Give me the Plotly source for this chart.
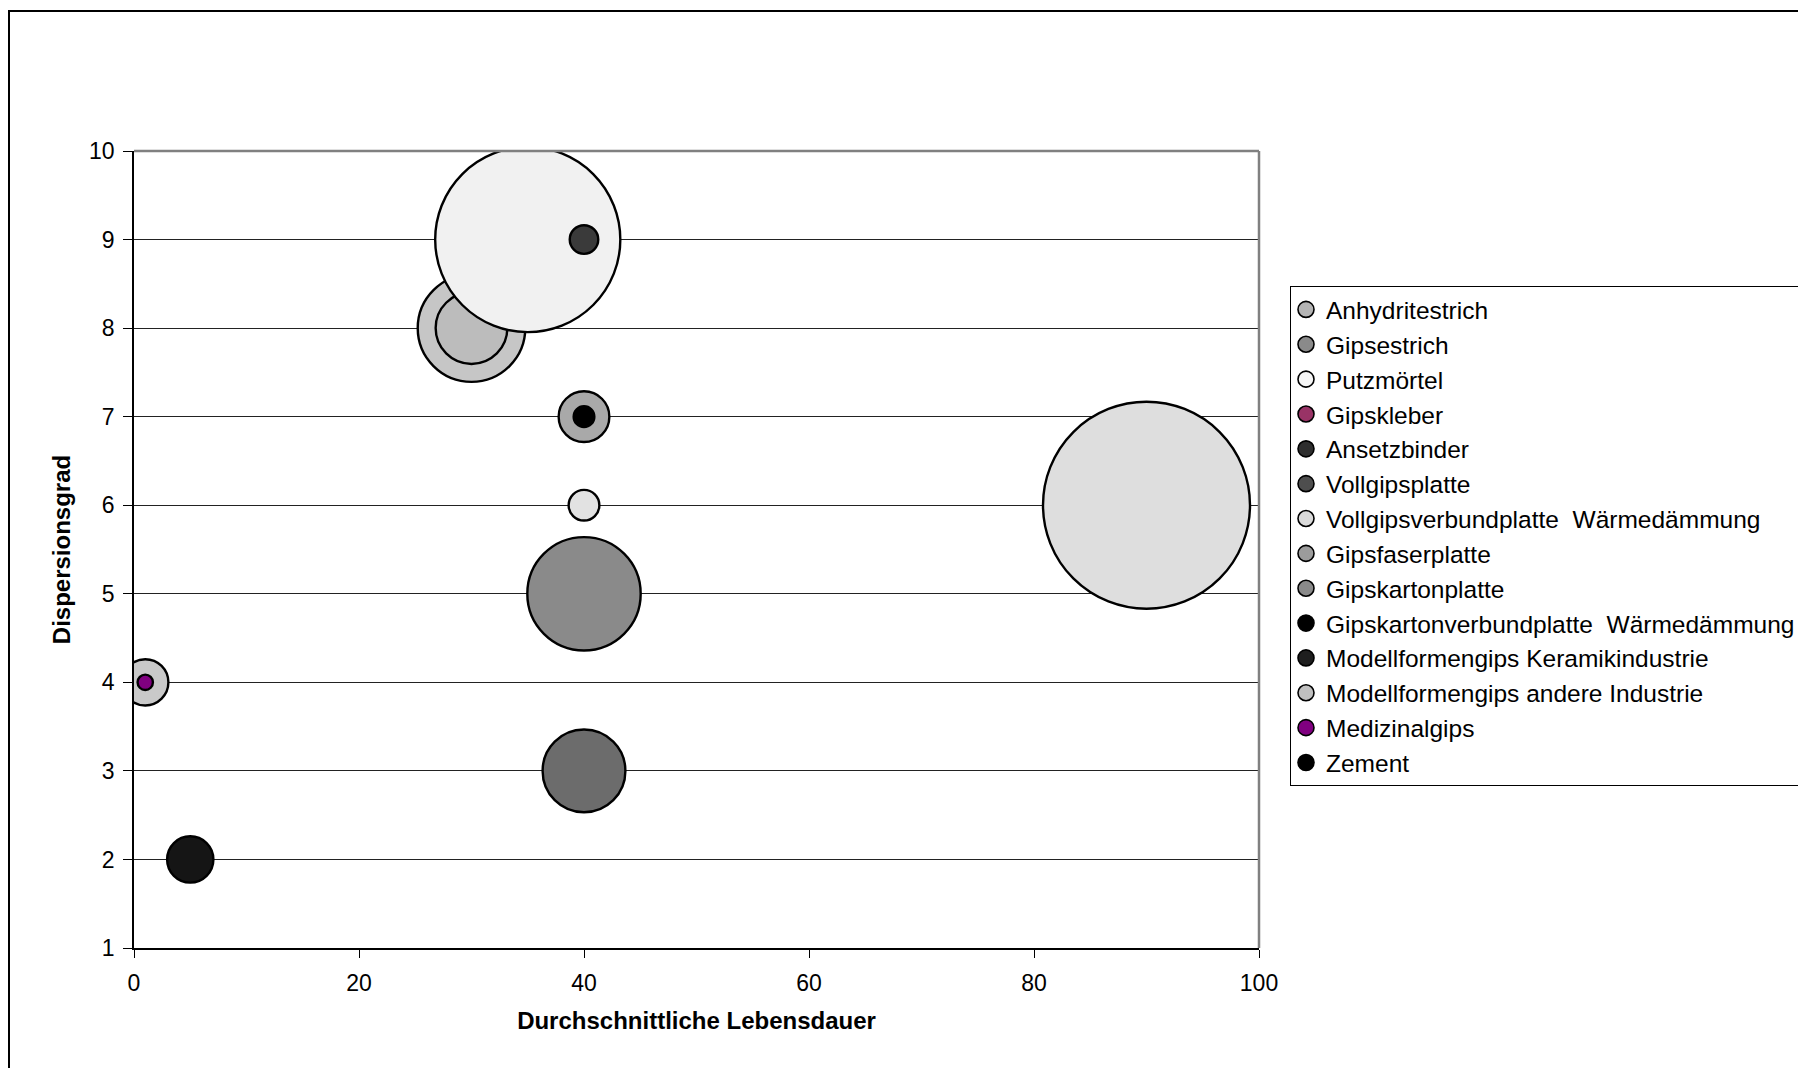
import plotly.graph_objects as go

# Products (legend order = drawing order)
products = [
    "Anhydritestrich",
    "Gipsestrich",
    "Putzmörtel",
    "Gipskleber",
    "Ansetzbinder",
    "Vollgipsplatte",
    "Vollgipsverbundplatte  Wärmedämmung",
    "Gipsfaserplatte",
    "Gipskartonplatte",
    "Gipskartonverbundplatte  Wärmedämmung",
    "Modellformengips Keramikindustrie",
    "Modellformengips andere Industrie",
    "Medizinalgips",
    "Zement",
]

# Average lifetime (years)
lebensdauer = [30, 30, 35, None, 40, 40, 40, 40, 40, 40, 5, 1, 1, 90]
# Degree of dispersion
dispersionsgrad = [8, 8, 9, None, 9, 3, 6, 7, 5, 7, 2, 4, 4, 6]
# Bubble size (relative quantity, area-proportional)
menge = [27, 12, 80, None, 1.9, 16, 2.2, 6, 30, 1, 5, 5, 0.55, 100]

x_ticks = [0, 20, 40, 60, 80, 100]
y_ticks = [1, 2, 3, 4, 5, 6, 7, 8, 9, 10]

# Styling
bubble_fill = ["#c6c6c6", "#bcbcbc", "#f1f1f1", "#993366", "#3a3a3a", "#6c6c6c",
               "#e2e2e2", "#a9a9a9", "#8a8a8a", "#000000", "#151515", "#c9c9c9",
               "#800080", "#dedede"]
legend_fill = ["#b4b4b4", "#8a8a8a", "#f6f6f6", "#993366", "#2e2e2e", "#4e4e4e",
               "#dadada", "#9c9c9c", "#8a8a8a", "#000000", "#1e1e1e", "#c0c0c0",
               "#800080", "#000000"]

FONT = "Arial, 'Liberation Sans', sans-serif"
MAX_DIAMETER = 207
size_max = max(v for v in menge if v is not None)
sizeref = 2.0 * size_max / (MAX_DIAMETER ** 2)

fig = go.Figure()

for i, name in enumerate(products):
    if menge[i] is None:
        continue
    fig.add_trace(go.Scatter(
        x=[lebensdauer[i]], y=[dispersionsgrad[i]],
        mode="markers",
        name=name,
        showlegend=False,
        marker=dict(
            size=[menge[i]],
            sizemode="area",
            sizeref=sizeref,
            color=bubble_fill[i],
            opacity=1,
            line=dict(color="#000000", width=2.4),
        ),
        cliponaxis=True,
        hoverinfo="name+x+y",
    ))

# Legend swatches
for i, name in enumerate(products):
    fig.add_trace(go.Scatter(
        x=[None], y=[None],
        mode="markers",
        name=name,
        showlegend=True,
        marker=dict(size=16, color=legend_fill[i],
                    line=dict(color="#000000", width=1.6)),
    ))

L, R, T, B = 134, 539, 151, 120
W, H = 1798, 1068
pw, ph = W - L - R, H - T - B

shapes = [
    # outer chart frame
    dict(type="rect", xref="paper", yref="paper",
         x0=(9 - L) / pw, x1=2.0, y0=-1.0, y1=1 + (T - 11) / ph,
         line=dict(color="#000000", width=2), fillcolor="rgba(0,0,0,0)", layer="below"),
    # plot area border (top and right)
    dict(type="line", xref="paper", yref="paper", x0=0, x1=1, y0=1, y1=1,
         line=dict(color="#808080", width=2.5), layer="above"),
    dict(type="line", xref="paper", yref="paper", x0=1, x1=1, y0=0, y1=1,
         line=dict(color="#808080", width=2.5), layer="above"),
]

fig.update_layout(
    width=W, height=H,
    margin=dict(l=L, r=R, t=T, b=B, autoexpand=False),
    paper_bgcolor="#ffffff",
    plot_bgcolor="#ffffff",
    font=dict(family=FONT, size=23, color="#000000"),
    shapes=shapes,
    showlegend=True,
    legend=dict(
        x=(1290 - L) / pw, xanchor="left",
        y=1 - (286 - T) / ph, yanchor="top",
        font=dict(family=FONT, size=24.5, color="#000000"),
        bordercolor="#000000", borderwidth=1,
        bgcolor="#ffffff",
        traceorder="normal",
        indentation=-5,
        itemclick=False,
    ),
    xaxis=dict(
        range=[0, 100],
        tickvals=x_ticks,
        ticktext=[str(v) for v in x_ticks],
        ticks="outside", ticklen=8, tickcolor="#000000", tickwidth=1,
        ticklabelstandoff=5,
        showline=True, linecolor="#000000", linewidth=2,
        showgrid=False, zeroline=False,
        tickfont=dict(family=FONT, size=23, color="#000000"),
        title=dict(text="<b>Durchschnittliche Lebensdauer</b>",
                   font=dict(family=FONT, size=24, color="#000000"),
                   standoff=18),
    ),
    yaxis=dict(
        range=[1, 10],
        tickvals=y_ticks,
        ticktext=[str(v) for v in y_ticks],
        ticks="outside", ticklen=9, tickcolor="#000000", tickwidth=1,
        ticklabelstandoff=4,
        showline=True, linecolor="#000000", linewidth=1.5,
        showgrid=True, gridcolor="#222222", gridwidth=1,
        zeroline=False,
        tickfont=dict(family=FONT, size=23, color="#000000"),
        title=dict(text="<b>Dispersionsgrad</b>",
                   font=dict(family=FONT, size=24, color="#000000"),
                   standoff=12),
    ),
)

fig.write_html("out.html")
